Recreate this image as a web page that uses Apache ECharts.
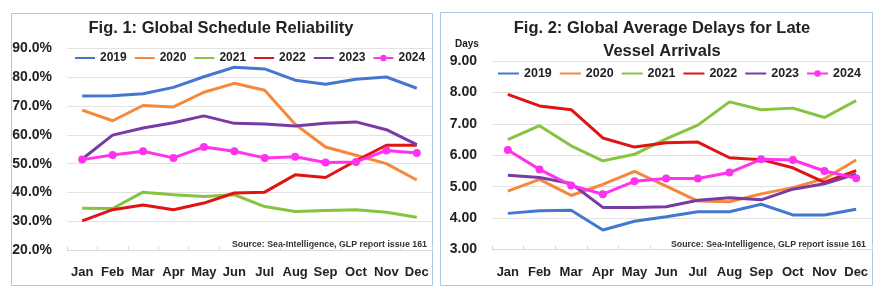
<!DOCTYPE html>
<html><head><meta charset="utf-8">
<script src="https://cdn.jsdelivr.net/npm/echarts@6/dist/echarts.min.js"></script>
<style>html,body{margin:0;padding:0;background:#fff}#c{width:886px;height:296px}</style>
</head><body><div id="c"></div>
<script>
const months = ['Jan','Feb','Mar','Apr','May','Jun','Jul','Aug','Sep','Oct','Nov','Dec'];
const years = ['2019','2020','2021','2022','2023','2024'];
// Fig 1: schedule reliability (%)
const rel2019 = [73.5, 73.6, 74.3, 76.5, 80.2, 83.5, 82.9, 79.0, 77.6, 79.3, 80.1, 76.2];
const rel2020 = [68.6, 64.9, 70.2, 69.7, 74.8, 77.9, 75.5, 63.7, 55.8, 52.9, 50.0, 44.3];
const rel2021 = [34.5, 34.4, 40.1, 39.2, 38.6, 39.2, 35.1, 33.4, 33.7, 34.0, 33.1, 31.4];
const rel2022 = [30.1, 34.0, 35.6, 34.0, 36.3, 39.8, 40.1, 46.1, 45.2, 51.0, 56.4, 56.4];
const rel2023 = [51.6, 59.9, 62.4, 64.2, 66.6, 64.0, 63.8, 63.1, 64.0, 64.5, 61.8, 56.6];
const rel2024 = [51.4, 53.0, 54.3, 52.0, 55.8, 54.3, 52.0, 52.4, 50.4, 50.6, 54.6, 53.7];
// Fig 2: average delays (days)
const del2019 = [4.15, 4.23, 4.25, 3.62, 3.90, 4.04, 4.20, 4.20, 4.44, 4.10, 4.10, 4.28];
const del2020 = [4.86, 5.23, 4.72, 5.07, 5.49, 5.02, 4.54, 4.52, 4.77, 4.97, 5.25, 5.85];
const del2021 = [6.50, 6.94, 6.30, 5.82, 6.03, 6.52, 6.96, 7.70, 7.45, 7.50, 7.20, 7.74];
const del2022 = [7.94, 7.57, 7.45, 6.55, 6.26, 6.40, 6.42, 5.92, 5.86, 5.60, 5.14, 5.51];
const del2023 = [5.36, 5.29, 5.10, 4.34, 4.34, 4.36, 4.57, 4.65, 4.58, 4.92, 5.09, 5.40];
const del2024 = [6.17, 5.55, 5.04, 4.76, 5.17, 5.26, 5.26, 5.45, 5.87, 5.85, 5.50, 5.27];
const title1 = 'Fig. 1: Global Schedule Reliability';
const title2 = 'Fig. 2: Global Average Delays for Late\nVessel Arrivals';
const sourceText = 'Source: Sea-Intelligence, GLP report issue 161';
const unitText = 'Days';

const colors = ['#4478CF', '#F5883A', '#86C440', '#E01414', '#7A3AA6', '#FF33EE'];
const FONT = '"Liberation Sans", Arial, sans-serif';
const relData = [rel2019, rel2020, rel2021, rel2022, rel2023, rel2024];
const delData = [del2019, del2020, del2021, del2022, del2023, del2024];

function mkSeries(arr, axisIdx) {
  return arr.map((d, i) => {
    const isLast = i === 5;
    return {
      name: years[i], type: 'line', data: d,
      xAxisIndex: axisIdx, yAxisIndex: axisIdx,
      symbol: isLast ? 'circle' : 'none', symbolSize: 8, showSymbol: isLast,
      lineStyle: { width: 3, color: colors[i] },
      itemStyle: { color: colors[i] },
      emphasis: { disabled: true }, animation: false, z: 2 + i
    };
  });
}
function legendData() {
  return years.map((y, i) => i === 5 ? { name: y } : { name: y, itemStyle: { opacity: 0 } });
}
const gridLine = { show: true, lineStyle: { color: '#E3E3E3', width: 1 } };
const chart = echarts.init(document.getElementById('c'));
chart.setOption({
  backgroundColor: '#fff',
  animation: false,
  title: [
    { text: title1, left: 216, top: 15, textAlign: 'center', textStyle: { fontFamily: FONT, fontWeight: 'bold', fontSize: 16.5, color: '#222' } },
    { text: title2, left: 657, top: 12, textAlign: 'center', textStyle: { fontFamily: FONT, fontWeight: 'bold', fontSize: 16.5, color: '#222', lineHeight: 23 } },
    { text: unitText, left: 450, top: 34, textStyle: { fontFamily: FONT, fontWeight: 'bold', fontSize: 10, color: '#222' } }
  ],
  legend: [
    { data: legendData(), left: 69, top: 47, itemWidth: 20, itemHeight: 8, itemGap: 7,
      textStyle: { fontFamily: FONT, fontWeight: 'bold', fontSize: 12, color: '#222' }, selectedMode: false },
    { data: legendData(), left: 492, top: 62, itemWidth: 21, itemHeight: 8, itemGap: 7,
      textStyle: { fontFamily: FONT, fontWeight: 'bold', fontSize: 12.5, color: '#222' }, selectedMode: false }
  ],
  grid: [
    { left: 67, right: 454, top: 48.5, bottom: 46 },
    { left: 492, right: 14, top: 61, bottom: 46.5 }
  ],
  xAxis: [0, 1].map(i => ({
    type: 'category', data: months, gridIndex: i, boundaryGap: true,
    axisLine: { lineStyle: { color: '#D9D9D9' } },
    axisTick: { show: true, inside: true, length: 4, lineStyle: { color: '#D9D9D9' } },
    axisLabel: { interval: 0, fontFamily: FONT, fontWeight: 'bold', fontSize: 13, color: '#222', margin: 16 }
  })),
  yAxis: [
    { type: 'value', gridIndex: 0, min: 20, max: 90, interval: 10, splitLine: gridLine,
      axisLine: { show: false }, axisTick: { show: false },
      axisLabel: { formatter: v => v.toFixed(1) + '%', fontFamily: FONT, fontWeight: 'bold', fontSize: 14, color: '#222', margin: 15 } },
    { type: 'value', gridIndex: 1, min: 3, max: 9, interval: 1, splitLine: gridLine,
      axisLine: { show: false }, axisTick: { show: false },
      axisLabel: { formatter: v => v.toFixed(2), fontFamily: FONT, fontWeight: 'bold', fontSize: 14, color: '#222', margin: 15 } }
  ],
  graphic: [
    { type: 'rect', shape: { x: 11.5, y: 13.5, width: 421, height: 272 }, style: { fill: 'none', stroke: '#A9C8EC', lineWidth: 1 }, silent: true },
    { type: 'rect', shape: { x: 440.5, y: 12.5, width: 432, height: 273 }, style: { fill: 'none', stroke: '#A9C8EC', lineWidth: 1 }, silent: true },
    { type: 'text', right: 886 - 427, top: 240, style: { text: sourceText, font: 'bold 8.8px ' + FONT, fill: '#333' }, silent: true },
    { type: 'text', right: 886 - 866, top: 240, style: { text: sourceText, font: 'bold 8.8px ' + FONT, fill: '#333' }, silent: true }
  ],
  series: mkSeries(relData, 0).concat(mkSeries(delData, 1))
});
</script></body></html>
